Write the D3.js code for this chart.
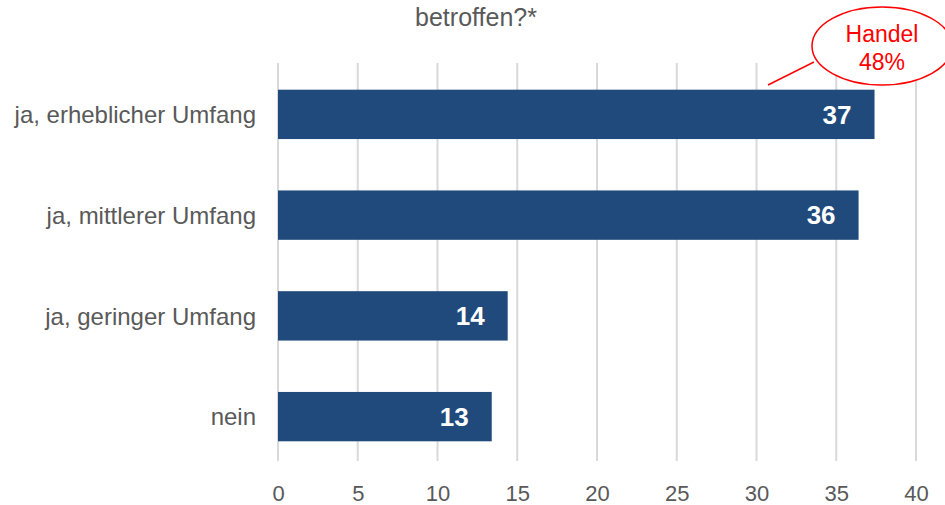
<!DOCTYPE html>
<html><head><meta charset="utf-8">
<script src="https://cdn.jsdelivr.net/npm/d3@7"></script>
<style>body{margin:0;background:#fff}svg{display:block}</style>
</head><body>
<svg id="c" width="945" height="505"></svg>
<script>
const categories = ["ja, erheblicher Umfang", "ja, mittlerer Umfang", "ja, geringer Umfang", "nein"];
const values = [37.4, 36.4, 14.4, 13.4];
const xTicks = [0, 5, 10, 15, 20, 25, 30, 35, 40];
const titleText = "betroffen?*";
const calloutLines = ["Handel", "48%"];

const svg = d3.select("#c");
const font = "'Liberation Sans', Arial, sans-serif";
const x = d3.scaleLinear().domain([0, 40]).range([278, 916]);
const y = d3.scaleBand().domain(categories).range([64, 467]).paddingInner(0.51).paddingOuter(0.255);

svg.append("text").attr("x", 476).attr("y", 26).attr("text-anchor", "middle")
  .attr("font-family", font).attr("font-size", 25).attr("fill", "#595959").text(titleText);

svg.append("g").selectAll("line").data(xTicks).join("line")
  .attr("x1", d => x(d)).attr("x2", d => x(d)).attr("y1", 63).attr("y2", 461)
  .attr("stroke", "#d9d9d9").attr("stroke-width", 2);

const ax = svg.append("g").attr("transform", "translate(0,482)")
  .call(d3.axisBottom(x).tickValues(xTicks).tickSize(0).tickPadding(3));
ax.select(".domain").remove();
ax.selectAll("text").attr("font-family", font).attr("font-size", 22).attr("fill", "#595959");

svg.append("g").selectAll("rect").data(values).join("rect")
  .attr("x", x(0)).attr("y", (d, i) => y(categories[i]))
  .attr("width", d => x(d) - x(0)).attr("height", y.bandwidth())
  .attr("fill", "#204a7c");

svg.append("g").selectAll("text").data(values).join("text")
  .attr("x", d => x(d) - 23).attr("y", (d, i) => y(categories[i]) + y.bandwidth() / 2)
  .attr("dy", "0.36em").attr("text-anchor", "end")
  .attr("font-family", font).attr("font-size", 26).attr("font-weight", "bold").attr("fill", "#fff")
  .text(d => d3.format(".0f")(d));

svg.append("g").selectAll("text").data(categories).join("text")
  .attr("x", 256).attr("y", d => y(d) + y.bandwidth() / 2).attr("dy", "0.36em")
  .attr("text-anchor", "end").attr("font-family", font).attr("font-size", 24).attr("fill", "#595959")
  .text(d => d);

// callout
svg.append("line").attr("x1", 768).attr("y1", 85).attr("x2", 814).attr("y2", 62)
  .attr("stroke", "#ff0000").attr("stroke-width", 1.5);
svg.append("ellipse").attr("cx", 882).attr("cy", 46).attr("rx", 70).attr("ry", 39)
  .attr("fill", "#fff").attr("stroke", "#ff0000").attr("stroke-width", 1.5);
svg.append("g").selectAll("text").data(calloutLines).join("text")
  .attr("x", 882).attr("y", (d, i) => 42 + i * 28).attr("text-anchor", "middle")
  .attr("font-family", font).attr("font-size", 23).attr("fill", "#ff0000").text(d => d);
</script>
</body></html>
